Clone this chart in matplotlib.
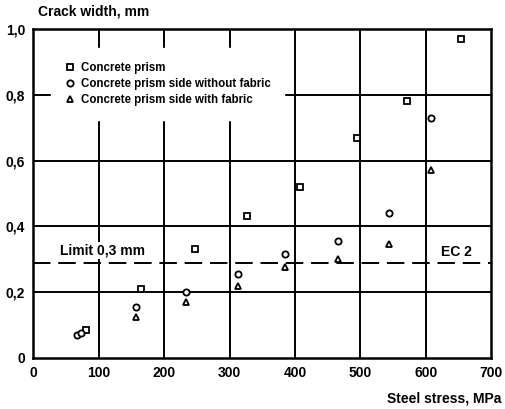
import numpy as np
import matplotlib.pyplot as plt

plt.rcParams['font.family'] = ['Liberation Sans', 'DejaVu Sans']

# data
prism_x = [80, 164, 247, 327, 408, 494, 571, 654]
prism_y = [0.085, 0.21, 0.33, 0.43, 0.52, 0.67, 0.78, 0.97]
nofab_x = [66, 73, 157, 234, 313, 385, 466, 544, 608]
nofab_y = [0.07, 0.075, 0.155, 0.20, 0.255, 0.315, 0.355, 0.44, 0.73]
fab_x = [157, 234, 313, 385, 466, 544, 608]
fab_y = [0.125, 0.17, 0.22, 0.275, 0.30, 0.345, 0.57]
limit = 0.29

xticks = [0, 100, 200, 300, 400, 500, 600, 700]
yticks = [0, 0.2, 0.4, 0.6, 0.8, 1.0]
ylabels = ["0", "0,2", "0,4", "0,6", "0,8", "1,0"]

fig = plt.figure(figsize=(5.06, 4.09), dpi=100)
ax = fig.add_axes([0.066, 0.125, 0.905, 0.804])

for v in xticks[1:-1]:
	ax.axvline(v, color='black', lw=1.4, zorder=1)
for v in yticks[1:-1]:
	ax.axhline(v, color='black', lw=1.4, zorder=1)

ax.plot([0, 700], [limit, limit], color='black', lw=1.4, dashes=(9, 4), zorder=2)

ms = 4.5
ax.plot(prism_x, prism_y, 's', mfc='white', mec='black', mew=1.3, ms=ms, zorder=3,
	label='Concrete prism')
ax.plot(nofab_x, nofab_y, 'o', mfc='white', mec='black', mew=1.3, ms=ms, zorder=3,
	label='Concrete prism side without fabric')
ax.plot(fab_x, fab_y, '^', mfc='white', mec='black', mew=1.3, ms=ms + 0.5, zorder=3,
	label='Concrete prism side with fabric')

leg = ax.legend(loc='upper left', bbox_to_anchor=(0.025, 0.96), frameon=True, fancybox=False,
	handletextpad=0.4, handlelength=1.0, borderpad=1.2, labelspacing=0.35,
	prop={'weight': 'bold', 'size': 8.3})
leg.get_frame().set_edgecolor('white')
leg.get_frame().set_facecolor('white')
leg.get_frame().set_alpha(1)
leg.set_zorder(4)

ax.text(40, 0.315, "Limit 0,3 mm", fontsize=10, fontweight='bold', zorder=5,
	bbox=dict(facecolor='white', edgecolor='none', pad=1))
ax.text(623, 0.31, "EC 2", fontsize=10, fontweight='bold', zorder=5)

ax.set_xlim(0, 700)
ax.set_ylim(0, 1.0)
ax.set_xticks(xticks)
ax.set_xticklabels([str(v) for v in xticks], fontsize=10, fontweight='bold')
ax.set_yticks(yticks)
ax.set_yticklabels(ylabels, fontsize=10, fontweight='bold')
ax.tick_params(length=0, pad=6)
for s in ax.spines.values():
	s.set_linewidth(1.8)

fig.text(0.075, 0.962, "Crack width, mm", fontsize=10, fontweight='bold')
fig.text(0.99, 0.015, "Steel stress, MPa", fontsize=10, fontweight='bold', ha='right')

fig.savefig('out.png', dpi=100)
